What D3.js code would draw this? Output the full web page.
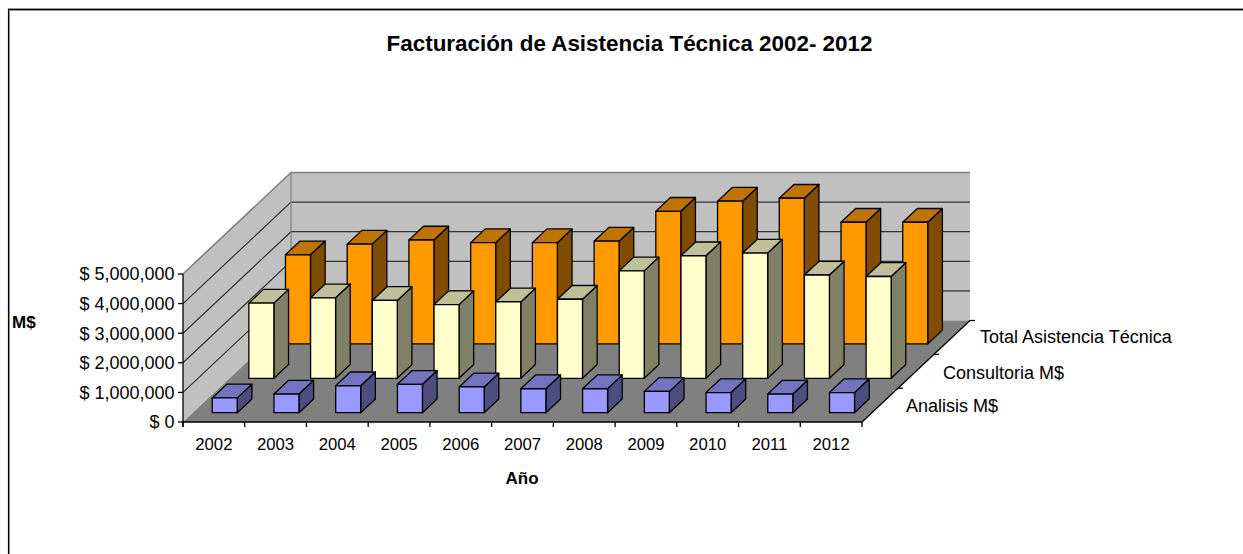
<!DOCTYPE html>
<html><head><meta charset="utf-8">
<script src="https://cdnjs.cloudflare.com/ajax/libs/d3/7.8.5/d3.min.js"></script>
<style>html,body{margin:0;padding:0;background:#fff}svg{display:block}text{font-family:"Liberation Sans",Arial,sans-serif;fill:#000}</style>
</head><body><svg id="c" width="1243" height="554"></svg>
<script>
const years = ["2002","2003","2004","2005","2006","2007","2008","2009","2010","2011","2012"];
const seriesNames = ["Analisis M$","Consultoria M$","Total Asistencia Técnica"];
const analisis = [500000,630000,910000,960000,870000,810000,810000,720000,680000,630000,680000];
const consultoria = [2540000,2720000,2630000,2490000,2580000,2670000,3630000,4140000,4230000,3490000,3440000];
const total = [3010000,3370000,3510000,3420000,3420000,3470000,4480000,4820000,4920000,4110000,4110000];
const valueTicks = [0,1000000,2000000,3000000,4000000,5000000];
const palette = [
  {front:"#9999FF",top:"#7373BF",side:"#4D4D80"},
  {front:"#FFFFCC",top:"#BFBF99",side:"#808066"},
  {front:"#FF9900",top:"#BF7300",side:"#804D00"}
];
const seriesValues = [analisis,consultoria,total];

const svg = d3.select("#c");
const x0=183,x1=862,y0=422,y5=274,depthX=108,depthY=101.5;
const x = d3.scaleBand(years,[x0+1,x1+1]).paddingInner(0.595).paddingOuter(0.2975);
const y = d3.scaleLinear([0,5000000],[0,y0-y5]);
const z = d3.scaleBand(seriesNames,[-0.0102,1.0068]).paddingInner(0.6).paddingOuter(0.3);
const P=(px,py,d)=>[px+d*depthX,py-d*depthY];
const poly=(g,pts,fill,stroke,sw)=>g.append("polygon").attr("points",pts.map(p=>p.join(",")).join(" "))
  .attr("fill",fill).attr("stroke",stroke||"none").attr("stroke-width",sw||0).attr("stroke-linejoin","round");

// page frame: open on the right and at the bottom, with a grey edge beside the black line
svg.append("path").attr("d","M9.5,554V10.5H1243").attr("fill","none").attr("stroke","#999").attr("stroke-width",1);
svg.append("path").attr("d","M1243,8.5H8").attr("fill","none").attr("stroke","#999").attr("stroke-width",1);
svg.append("path").attr("d","M8.5,554V9.5H1243").attr("fill","none").attr("stroke","#000").attr("stroke-width",1.2);

// walls and floor
const walls=svg.append("g");
poly(walls,[[x0,y0],[x0,y5],P(x0,y5,1),P(x0,y0,1)],"#C0C0C0");
poly(walls,[P(x0,y5,1),P(x1,y5,1),P(x1,y0,1),P(x0,y0,1)],"#C0C0C0");
poly(walls,[[x0,y0],[x1,y0],P(x1,y0,1),P(x0,y0,1)],"#808080");
valueTicks.forEach(v=>{
  const yy=y0-y(v);
  if(v>0){
    const a=P(x0,yy,0),b=P(x0,yy,1),c=P(x1,yy,1);
    const col=v===5000000?"#808080":"#333";
    svg.append("polyline").attr("points",[a,b,c].map(p=>p.join(",")).join(" ")).attr("fill","none").attr("stroke",col).attr("stroke-width",v===5000000?1.6:1.2);
  }
});
svg.append("line").attr("x1",P(x0,0,1)[0]).attr("x2",P(x0,0,1)[0]).attr("y1",P(0,y5,1)[1]).attr("y2",P(0,y0,1)[1]).attr("stroke","#808080").attr("stroke-width",1.2);

// bars, back to front
[2,1,0].forEach(si=>{
  const g=svg.append("g"), c=palette[si], d0=z(seriesNames[si]), d1=d0+z.bandwidth();
  seriesValues[si].forEach((v,i)=>{
    const xa=x(years[i]), xb=xa+x.bandwidth();
    const h=y(v);
    const fb=P(xa,y0,d0), fr=P(xb,y0,d0);
    const ft=fb[1]-h;
    const A=[fb[0],ft],B=[fr[0],ft],C=[fr[0],fb[1]],D=[fb[0],fb[1]];
    const bk=P(xb,y0,d1), bl=P(xa,y0,d1);
    const Bt=[bk[0],bk[1]-h],Lt=[bl[0],bl[1]-h];
    poly(g,[B,Bt,bk,C],c.side,"#000",1.3);
    poly(g,[A,Lt,Bt,B],c.top,"#000",1.3);
    poly(g,[A,B,C,D],c.front,"#000",1.3);
  });
});

// axes
const axisG=svg.append("g").attr("stroke","#000").attr("stroke-width",1.3);
axisG.append("line").attr("x1",x0).attr("x2",x1).attr("y1",y0).attr("y2",y0);
axisG.append("line").attr("x1",x0).attr("x2",x0).attr("y1",y5).attr("y2",y0+5);
const fe=P(x1,y0,1);
axisG.append("line").attr("x1",x1).attr("y1",y0).attr("x2",fe[0]).attr("y2",fe[1]);
const fmt=v=>"$ "+d3.format(",")(v);
valueTicks.forEach(v=>{
  const yy=y0-y(v);
  axisG.append("line").attr("x1",x0-5).attr("x2",x0).attr("y1",yy).attr("y2",yy);
  svg.append("text").attr("x",174.5).attr("y",yy+6.3).attr("text-anchor","end").attr("font-size",18).text(fmt(v));
});
d3.range(years.length+1).forEach(i=>{
  const xx=x0+i*(x1-x0)/years.length;
  axisG.append("line").attr("x1",xx).attr("x2",xx).attr("y1",y0).attr("y2",y0+5);
});
years.forEach((t,i)=>{
  svg.append("text").attr("x",x(t)+x.bandwidth()/2-1).attr("y",450).attr("text-anchor","middle").attr("font-size",16.7).text(t);
});
[1/3,2/3,1].forEach(d=>{
  const p=P(x1,y0,d);
  axisG.append("line").attr("x1",p[0]).attr("y1",p[1]).attr("x2",p[0]+5).attr("y2",p[1]);
});
const labelX=[906,943,980],labelY=[412,379,343];
seriesNames.forEach((s,i)=>{
  svg.append("text").attr("x",labelX[i]).attr("y",labelY[i]).attr("font-size",18).text(s);
});
svg.append("text").attr("x",629.5).attr("y",50.5).attr("text-anchor","middle").attr("font-size",22.4).attr("font-weight","bold").text("Facturación de Asistencia Técnica 2002- 2012");
svg.append("text").attr("x",522).attr("y",484).attr("text-anchor","middle").attr("font-size",17).attr("font-weight","bold").text("Año");
svg.append("text").attr("x",12).attr("y",328).attr("font-size",17).attr("font-weight","bold").text("M$");
</script></body></html>
